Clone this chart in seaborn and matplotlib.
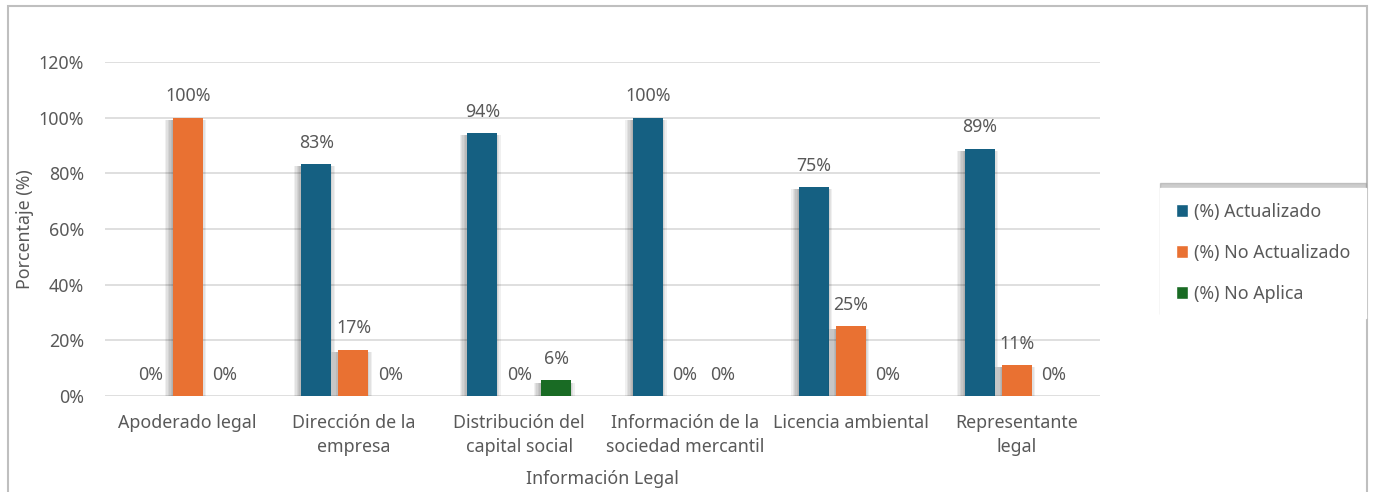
import pandas as pd
import matplotlib.pyplot as plt
import matplotlib.patheffects as pe
from matplotlib.ticker import PercentFormatter
from matplotlib.patches import Rectangle
import seaborn as sns

# Datos
categorias = ["Apoderado legal", "Dirección de la\nempresa", "Distribución del\ncapital social",
              "Información de la\nsociedad mercantil", "Licencia ambiental", "Representante\nlegal"]
series = ["(%) Actualizado", "(%) No Actualizado", "(%) No Aplica"]
actualizado = [0, 83.3, 94.4, 100, 75, 88.9]
no_actualizado = [100, 16.7, 0, 0, 25, 11.1]
no_aplica = [0, 0, 5.6, 0, 0, 0]
colores = ["#156082", "#E97132", "#196B24"]

df = pd.DataFrame({
    "cat": categorias * 3,
    "serie": [series[0]] * 6 + [series[1]] * 6 + [series[2]] * 6,
    "valor": actualizado + no_actualizado + no_aplica,
})

sns.set_theme(style="white")
plt.rcParams['font.family'] = ['Noto Sans', 'DejaVu Sans']
gris = "#595959"
fs = 12.8

fig = plt.figure(figsize=(13.78, 4.92), dpi=100)
ax = fig.add_axes([0.076, 0.195, 0.722, 0.679])

sns.barplot(data=df, x="cat", y="valor", hue="serie", palette=colores, ax=ax,
            width=0.67, gap=0.19, saturation=1, errorbar=None, legend=True)

# sombra difusa tipo Excel
sombra = [pe.SimplePatchShadow(offset=(dx, -1.5), alpha=0.06, shadow_rgbFace="black")
          for dx in (-5.5, -4.5, -3.5, -2.5, -1.5, -0.5, 0.5, 1.5, 2.5)]
for cont in ax.containers:
    for bar in cont:
        bar.set_linewidth(0)
        if bar.get_height() > 0:
            bar.set_path_effects(sombra + [pe.Normal()])
    ax.bar_label(cont, labels=[f"{v.get_height():.0f}%" for v in cont], padding=9,
                 fontsize=fs, color=gris)

ax.set_ylim(0, 120)
ax.set_yticks(range(0, 121, 20))
ax.yaxis.set_major_formatter(PercentFormatter(100, decimals=0))
ax.set_xlim(-0.5, 5.5)
ax.grid(axis="y", color="#d9d9d9", linewidth=1.2)
ax.set_axisbelow(True)
for s in ax.spines.values():
    s.set_visible(False)
ax.tick_params(axis="both", length=0, labelsize=fs, labelcolor=gris)
ax.tick_params(axis="x", pad=13)
ax.tick_params(axis="y", pad=15)
for t in ax.get_xticklabels():
    t.set_linespacing(1.45)
ax.set_xlabel("Información Legal", fontsize=fs, color=gris, labelpad=10)
ax.set_ylabel("Porcentaje (%)", fontsize=fs, color=gris, labelpad=3)

handles, labels = ax.get_legend_handles_labels()
ax.get_legend().remove()
leg = fig.legend(handles, labels, loc="upper left", bbox_to_anchor=(0.846, 0.608),
                 frameon=True, fontsize=fs, labelcolor=gris, handlelength=0.7,
                 handleheight=0.7, handletextpad=0.35, labelspacing=1.3, borderpad=0.55,
                 borderaxespad=0,
                 shadow={"ox": 0, "oy": 3, "color": "#9a9a9a", "alpha": 0.5})
leg.get_frame().set_edgecolor("white")
leg.get_frame().set_boxstyle("square")

# marco exterior
fig.patches.append(Rectangle((0.006, -0.01), 0.986, 0.997, transform=fig.transFigure,
                             fill=False, edgecolor="#bfbfbf", linewidth=1.5))

fig.savefig("out.png", dpi=100)
